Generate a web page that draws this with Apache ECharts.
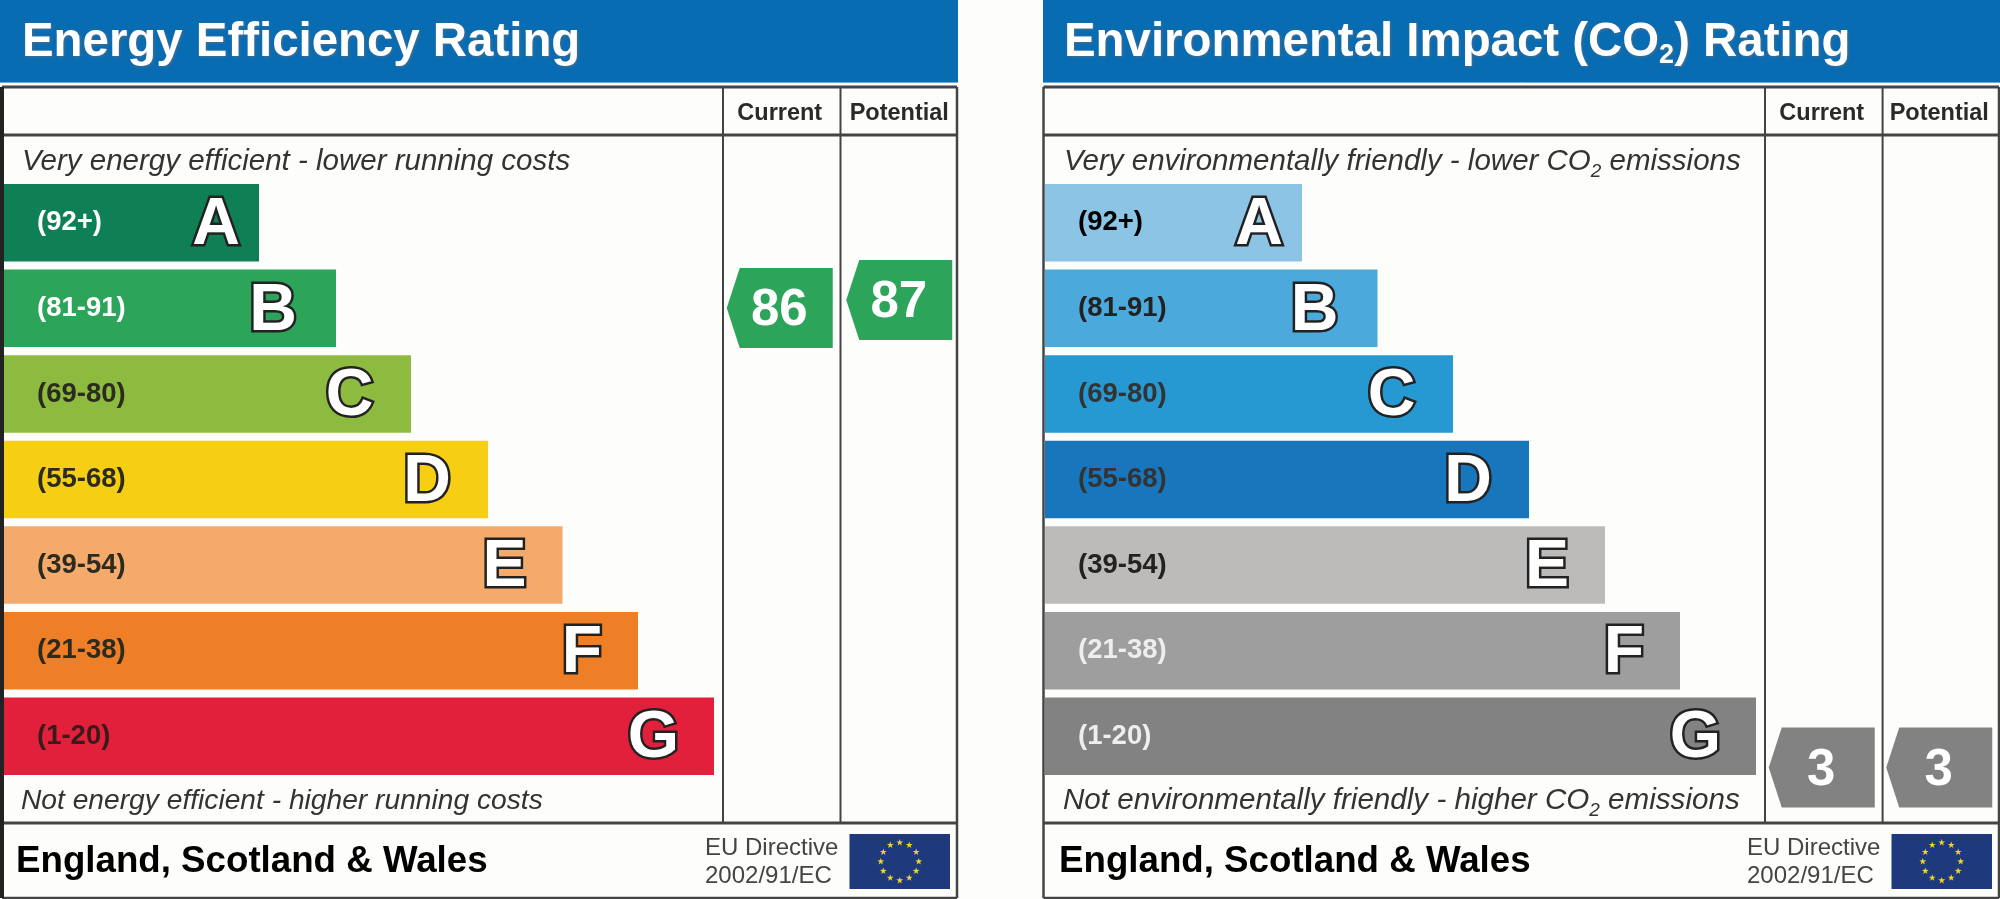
<!DOCTYPE html>
<html>
<head>
<meta charset="utf-8">
<style>html,body{margin:0;padding:0;background:#fdfdfb}#c{width:2000px;height:899px}</style>
<script src="https://cdn.jsdelivr.net/npm/echarts@6/dist/echarts.min.js"></script>
</head>
<body>
<div id="c"></div>
<script>
const grades = ['A','B','C','D','E','F','G'];
const bandRanges = ['(92+)','(81-91)','(69-80)','(55-68)','(39-54)','(21-38)','(1-20)'];
const energyBarLengths = [255,332,407,484,558.5,634,710];
const co2BarLengths = [257,332.5,408,484,560,635,711];
const energyColors = ['#0f7f56','#2ca55b','#8dbb40','#f6cf14','#f3aa6b','#ee7f26','#e3203c'];
const co2Colors = ['#8cc4e6','#4ca9dc','#2698d2','#1876bc','#bcbbb9','#9e9e9e','#828282'];
const energyRangeText = ['#ffffff','#ffffff','#2b2b20','#2b2b20','#2b2b20','#2b2b20','#3a1a1a'];
const co2RangeText = ['#000000','#222222','#333333','#333333','#222222','#eeeeee','#eeeeee'];
const columns = ['Current','Potential'];
const energyRatings = [86,87];
const co2Ratings = [3,3];
const energyPointerColor = '#2ca55b';
const co2PointerColor = '#828282';

const FONT = '"Liberation Sans", Arial, sans-serif';
const LINE = '#444444';
const pointerPath = 'path://M0 40 L13 0 L106 0 L106 80 L13 80 Z';
const letterInset = [19,39,37.5,37,36,36,35];

function barSeries(lengths, colors, textColors, axis) {
  return [
    {
      type:'bar', xAxisIndex:axis, yAxisIndex:axis, barWidth:77.5, barGap:'-100%', silent:true,
      data: lengths.map((v,i)=>({value:v,itemStyle:{color:colors[i]},label:{
        show:true, position:'insideLeft', distance:33, formatter:bandRanges[i],
        color:textColors[i], fontFamily:FONT, fontSize:27.5, fontWeight:'bold'}}))
    },
    {
      type:'bar', xAxisIndex:axis, yAxisIndex:axis, barWidth:77.5, barGap:'-100%', silent:true, z:3,
      itemStyle:{color:'transparent'},
      data: lengths.map((v,i)=>({value:v,label:{
        show:true, position:'insideRight', distance:letterInset[i], offset:[0,3], formatter:grades[i],
        color:'#ffffff', fontFamily:FONT, fontSize:66, fontWeight:'bold',
        textBorderColor:'#222222', textBorderWidth:5}}))
    }
  ];
}
function pointerSeries(ratings, color, axis) {
  return {
    type:'scatter', xAxisIndex:axis, yAxisIndex:axis, silent:true,
    symbol:pointerPath, symbolSize:[106,80],
    itemStyle:{color:color, opacity:1},
    label:{show:true, position:'inside', offset:[-0.5,3], color:'#ffffff', fontFamily:FONT, fontSize:51, fontWeight:'bold',
      formatter:p=>String(p.value[1])},
    data: ratings.map((r,i)=>[columns[i],r])
  };
}
function line(x1,y1,x2,y2,w,c){
  return {type:'line',silent:true,shape:{x1,y1,x2,y2},style:{stroke:c||LINE,lineWidth:w||2.5}};
}
function text(t,x,y,font,fill,extra){
  return {type:'text',silent:true,x,y,z:10,style:Object.assign({text:t,font:font,fill:fill,align:'left',verticalAlign:'middle'},extra||{})};
}
function flag(x,y,w,h){
  const els=[{type:'rect',silent:true,shape:{x,y,width:w,height:h},style:{fill:'#1f3a7c'}}];
  const cx=x+w/2, cy=y+h/2, R=h*0.345;
  for(let k=0;k<12;k++){
    const a=k*Math.PI/6, sx=cx+R*Math.sin(a), sy=cy-R*Math.cos(a), pts=[];
    for(let j=0;j<10;j++){
      const r=j%2?1.4:3.6, b=j*Math.PI/5;
      pts.push([sx+r*Math.sin(b),sy-r*Math.cos(b)]);
    }
    els.push({type:'polygon',silent:true,shape:{points:pts},style:{fill:'#f2d32b'}});
  }
  return els;
}
function panel(o){
  const shadow={textShadowColor:'rgba(90,110,130,0.8)',textShadowBlur:3,textShadowOffsetX:1,textShadowOffsetY:1};
  const rich={
    t:{fontFamily:FONT,fontSize:27,fontWeight:'bold',fill:'#ffffff',padding:[26,0,0,0]},
    n:{fontFamily:FONT,fontSize:19,fontStyle:'italic',fill:'#333333',padding:[20,0,0,0]}
  };
  return [
    {type:'rect',silent:true,shape:{x:o.l,y:0,width:o.r-o.l,height:82},style:{fill:'#086cb3'}},
    line(o.l,82.5,o.r,82.5,1,'#6fa8d8'),
    line(o.bx,87,o.r-1,87,3),
    line(o.bx,135,o.r-1,135,3),
    line(o.bx,823,o.r-1,823,3),
    line(o.bx,898,o.r-1,898,2.5),
    line(o.bx,87,o.bx,898,o.bw,o.bc),
    line(o.r-1,87,o.r-1,898,2.5),
    line(o.c1,87,o.c1,823,2),
    line(o.c2,87,o.c2,823,2),
    text(o.title,o.tx,43,'bold 47.4px '+FONT,'#ffffff',Object.assign({rich},shadow)),
    text(o.top,o.tx,162,'italic 29.5px '+FONT,'#333333',{rich}),
    text(o.bottom,o.tx-1,801,'italic '+o.bottomSize+'px '+FONT,'#333333',{rich}),
    text('England, Scotland & Wales',o.ex,862,'bold 36.7px '+FONT,'#000000'),
    text('EU Directive',o.dx,848,'24px '+FONT,'#444444'),
    text('2002/91/EC',o.dx,876,'24px '+FONT,'#444444')
  ].concat(flag(o.fx,834,100.5,55));
}

const hidden = {show:false};
const chart = echarts.init(document.getElementById('c'),null,{renderer:'canvas'});
function colAxis(i){
  return {type:'category',gridIndex:i,data:columns,position:'top',
    axisLine:hidden,axisTick:hidden,splitLine:hidden,
    axisLabel:{show:true,margin:9,color:'#2a2a2a',fontFamily:FONT,fontSize:23.5,fontWeight:'bold',interval:0}};
}
chart.setOption({
  animation:false,
  backgroundColor:'#fdfdfb',
  grid:[
    {left:4,top:180,width:800,height:599},
    {left:720,top:135,width:239,height:688},
    {left:1045,top:180,width:800,height:599},
    {left:1763,top:135,width:235,height:688}
  ],
  xAxis:[
    {type:'value',gridIndex:0,min:0,max:800,show:false},
    colAxis(1),
    {type:'value',gridIndex:2,min:0,max:800,show:false},
    colAxis(3)
  ],
  yAxis:[
    {type:'category',gridIndex:0,data:grades,inverse:true,show:false},
    {type:'value',gridIndex:1,min:21.625,max:107.625,show:false},
    {type:'category',gridIndex:2,data:grades,inverse:true,show:false},
    {type:'value',gridIndex:3,min:-7,max:117,show:false}
  ],
  series:[
    ...barSeries(energyBarLengths,energyColors,energyRangeText,0),
    pointerSeries(energyRatings,energyPointerColor,1),
    ...barSeries(co2BarLengths,co2Colors,co2RangeText,2),
    pointerSeries(co2Ratings,co2PointerColor,3)
  ],
  graphic:{elements:[
    ...panel({l:0,r:958,bx:2,bw:4,bc:'#222222',c1:723,c2:840.5,tx:22,bottomSize:28.2,title:'Energy Efficiency Rating',
      top:'Very energy efficient - lower running costs',bottom:'Not energy efficient - higher running costs',
      ex:16,dx:705,fx:849.5}),
    ...panel({l:1043,r:2000,bx:1043.5,bw:2.5,c1:1765,c2:1882.6,tx:1064,bottomSize:29.6,title:'Environmental Impact (CO{t|2}) Rating',
      top:'Very environmentally friendly - lower CO{n|2} emissions',bottom:'Not environmentally friendly - higher CO{n|2} emissions',
      ex:1059,dx:1747,fx:1891.5})
  ]}
});
</script>
</body>
</html>
